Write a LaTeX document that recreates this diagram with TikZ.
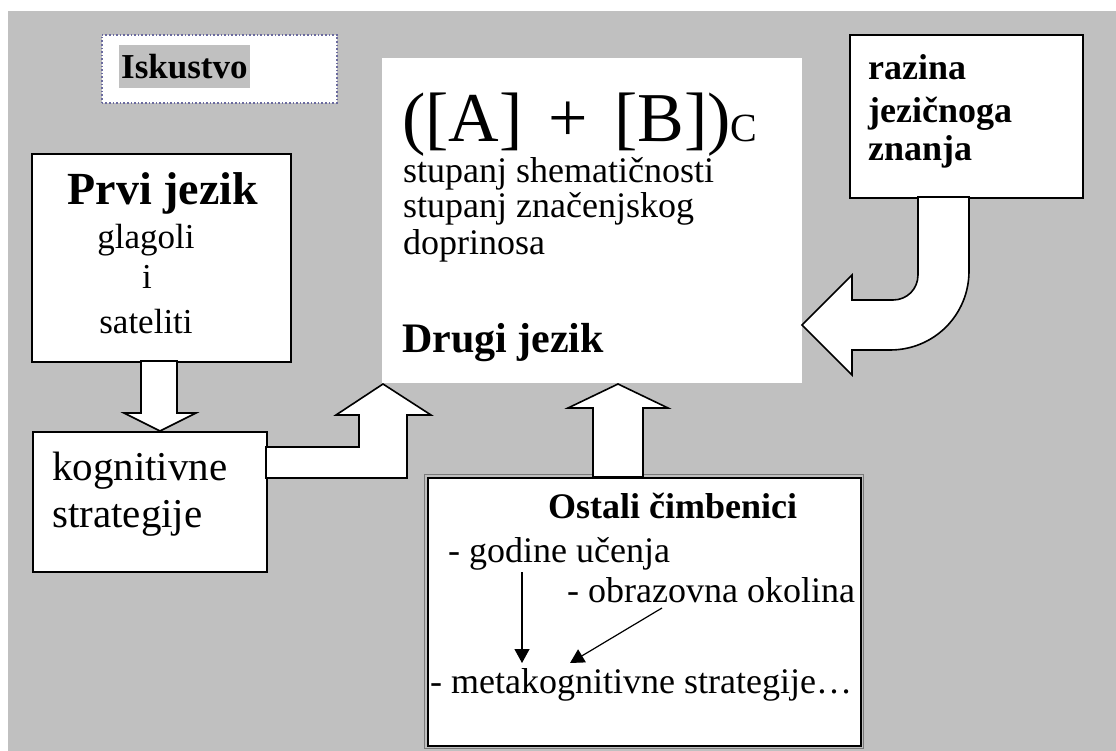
\documentclass[tikz,border=0pt]{standalone}
\usepackage{fontspec}
\setmainfont{Liberation Serif}
\usetikzlibrary{arrows.meta,calc}
\definecolor{bg}{HTML}{C0C0C0}
\definecolor{dotline}{HTML}{6A6A9E}
\definecolor{rim}{HTML}{7A7A7A}
\newcommand\fsz[1]{\fontsize{#1}{#1}\selectfont}
\begin{document}
\begin{tikzpicture}[x=1pt,y=-1pt,
  box/.style={draw=black,line width=1.6pt,fill=white,inner sep=0pt,anchor=north west},
  plainbox/.style={fill=white,inner sep=0pt,anchor=north west},
  blockarrow/.style={draw=black,line width=1.6pt,fill=white,line join=miter},
  thinarrow/.style={line width=1.2pt,-{Triangle[length=14pt,width=15pt]}},
  txt/.style={inner sep=0pt,anchor=base west},
  ctxt/.style={inner sep=0pt,anchor=base},
]
\useasboundingbox (0,0) rectangle (1116,751);
\fill[bg] (8,11) rectangle (1116,751);

% boxes
\node[draw=dotline,dotted,line width=1.6pt,fill=white,inner sep=0pt,anchor=north west,
      minimum width=235pt,minimum height=68pt] (isk) at (101,34) {};
\node[box,minimum width=259pt,minimum height=208pt] (prvi) at (31,153) {};
\node[box,minimum width=234pt,minimum height=140pt] (kog) at (32,431) {};
\node[plainbox,minimum width=420pt,minimum height=325pt] (drugi) at (382,58) {};
\node[box,minimum width=233pt,minimum height=163pt] (razina) at (849,34) {};
\node[box,minimum width=433pt,minimum height=268pt] (ostali) at (427,477) {};
\draw[rim,line width=0.8pt] ($(ostali.north west)+(-2.2,-2.2)$) rectangle ($(ostali.south east)+(2.2,2.2)$);

% texts
\node[txt,fill=bg,inner xsep=2pt,inner ysep=0pt,text height=34pt,text depth=9pt]
  (isktxt) at (119,79) {\fsz{35}\bfseries Iskustvo};

\node[ctxt] (prvitxt) at (163,205) {\fsz{46}\bfseries Prvi jezik};
\node[ctxt] (glag) at (146,249) {\fsz{35}glagoli};
\node[ctxt] (ii) at (147,288) {\fsz{35}i};
\node[ctxt] (sat) at (146,333) {\fsz{35}sateliti};

\node[txt] (kog1) at (52,480) {\fsz{41}kognitivne};
\node[txt] (kog2) at (52,527) {\fsz{41}strategije};

\node[txt] (formula) at (402,142) {\fsz{70}([A]\hspace{26pt}+\hspace{26pt}[B])\fsz{40}C};
\node[txt] (st1) at (403,183) {\fsz{36}stupanj shematičnosti};
\node[txt] (st2) at (403,218) {\fsz{36}stupanj značenjskog};
\node[txt] (st3) at (403,255) {\fsz{36}doprinosa};
\node[txt] (drugitxt) at (402,352) {\fsz{42}\bfseries Drugi jezik};

\node[txt] (raz1) at (868,80) {\fsz{36}\bfseries razina};
\node[txt] (raz2) at (868,123) {\fsz{36}\bfseries jezičnoga};
\node[txt] (raz3) at (868,161) {\fsz{36}\bfseries znanja};

\node[txt] (osttxt) at (548,518) {\fsz{36}\bfseries Ostali čimbenici};
\node[txt] (godine) at (448,562) {\fsz{36}- godine učenja};
\node[txt] (obraz) at (567,602) {\fsz{36}- obrazovna okolina};
\node[txt] (meta) at (430,693) {\fsz{36}- metakognitivne strategije…};

% block arrows
\draw[blockarrow] (141,361) -- (141,413) -- (124,413) -- (160,431) -- (196,413)
  -- (177,413) -- (177,361) -- cycle;
\draw[blockarrow] (266,447) -- (359,447) -- (359,415) -- (336,415) -- (383,384)
  -- (431,415) -- (407,415) -- (407,478) -- (266,478) -- cycle;
\draw[blockarrow] (593,477) -- (593,408) -- (568,408) -- (618,384) -- (668,408)
  -- (643,408) -- (643,477) -- cycle;
\draw[blockarrow] (918,197) -- (918,275) .. controls (918,289) and (907,300) .. (893,300)
  -- (852,300) -- (852,275) -- (802,325) -- (852,375) -- (852,350) -- (890,350)
  .. controls (934,350) and (969,315) .. (969,271) -- (969,197) -- cycle;

% thin arrows inside the factors box
\draw[thinarrow] ($(godine.base west)+(74,10)$) -- ($(meta.base west)+(92,-30)$);
\draw[thinarrow] ($(obraz.base west)+(95,6)$) -- ($(meta.base west)+(140,-30)$);
\end{tikzpicture}
\end{document}
